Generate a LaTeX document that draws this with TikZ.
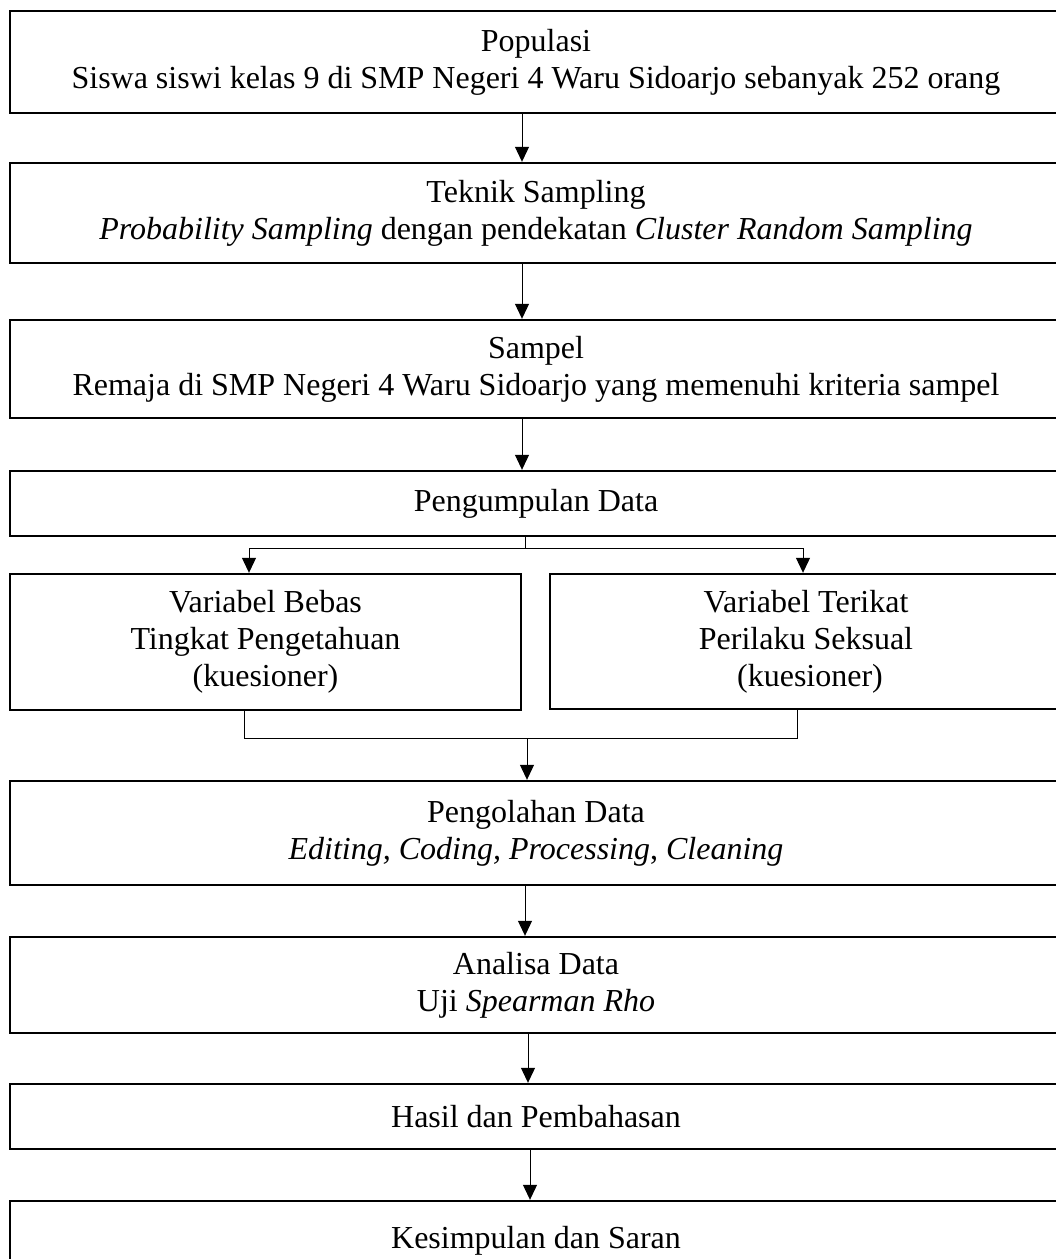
\documentclass[tikz,border=0pt]{standalone}
\usepackage{fontspec}
\setmainfont{Liberation Serif}
\usetikzlibrary{arrows.meta}
\begin{document}
\begin{tikzpicture}[x=1pt,y=-1pt,
  boxnode/.style={draw, line width=2.4pt, rectangle, inner sep=0pt, align=center,
    font=\fontsize{32}{37}\selectfont},
  flow/.style={line width=1pt, -{Triangle[length=15pt,width=14pt]}},
  link/.style={line width=1pt}]
\useasboundingbox (0,0) rectangle (1056,1259);
\clip (0,0) rectangle (1056,1259);
\fill[white] (0,0) rectangle (1056,1259);

\node[boxnode, minimum width=1052pt, minimum height=102pt] (pop) at (536,62)
  {Populasi\\Siswa siswi kelas 9 di SMP Negeri 4 Waru Sidoarjo sebanyak 252 orang};
\node[boxnode, minimum width=1052pt, minimum height=100pt] (tek) at (536,213)
  {Teknik Sampling\\\textit{Probability Sampling} dengan pendekatan \textit{Cluster Random Sampling}};
\node[boxnode, minimum width=1052pt, minimum height=98pt] (sam) at (536,369)
  {Sampel\\Remaja di SMP Negeri 4 Waru Sidoarjo yang memenuhi kriteria sampel};
\node[boxnode, minimum width=1052pt, minimum height=65pt] (pd) at (536,503.5)
  {Pengumpulan Data};
\node[boxnode, minimum width=511pt, minimum height=136pt] (bebas) at (265.5,642)
  {Variabel Bebas\\Tingkat Pengetahuan\\(kuesioner)};
\node[boxnode, minimum width=512pt, minimum height=135pt] (terikat) at (806,641.5)
  {Variabel Terikat\\Perilaku Seksual\\\ (kuesioner)};
\node[boxnode, minimum width=1052pt, minimum height=104pt] (olah) at (536,833)
  {Pengolahan Data\\\textit{Editing, Coding, Processing}, \textit{Cleaning}};
\node[boxnode, minimum width=1052pt, minimum height=96pt] (ana) at (536,985)
  {Analisa Data\\Uji \textit{Spearman Rho}};
\node[boxnode, minimum width=1052pt, minimum height=65pt] (has) at (536,1116.5)
  {Hasil dan Pembahasan};
\node[boxnode, minimum width=1052pt, minimum height=79pt] (kes) at (536,1240.5)
  {Kesimpulan dan Saran};

% connector columns
\coordinate (xa) at (522,0);
\coordinate (xb) at (525,0);
\coordinate (xc) at (528,0);
\coordinate (xd) at (530,0);

\draw[flow] (pop.south -| xa) -- (tek.north -| xa);
\draw[flow] (tek.south -| xa) -- (sam.north -| xa);
\draw[flow] (sam.south -| xa) -- (pd.north -| xa);

% split
\coordinate (split) at (525,548);
\coordinate (dl) at (249,548);
\coordinate (dr) at (803,548);
\draw[link] (pd.south -| split) -- (split);
\draw[link] (dl) -- (dr);
\draw[flow] (dl) -- (bebas.north -| dl);
\draw[flow] (dr) -- (terikat.north -| dr);

% merge
\coordinate (ml) at (244,738);
\coordinate (mr) at (797,738);
\coordinate (mj) at (527,738);
\draw[link] (bebas.south -| ml) -- (ml) -- (mr) -- (terikat.south -| mr);
\draw[flow] (mj) -- (olah.north -| mj);

\draw[flow] (olah.south -| xb) -- (ana.north -| xb);
\draw[flow] (ana.south -| xc) -- (has.north -| xc);
\draw[flow] (has.south -| xd) -- (kes.north -| xd);
\end{tikzpicture}
\end{document}
